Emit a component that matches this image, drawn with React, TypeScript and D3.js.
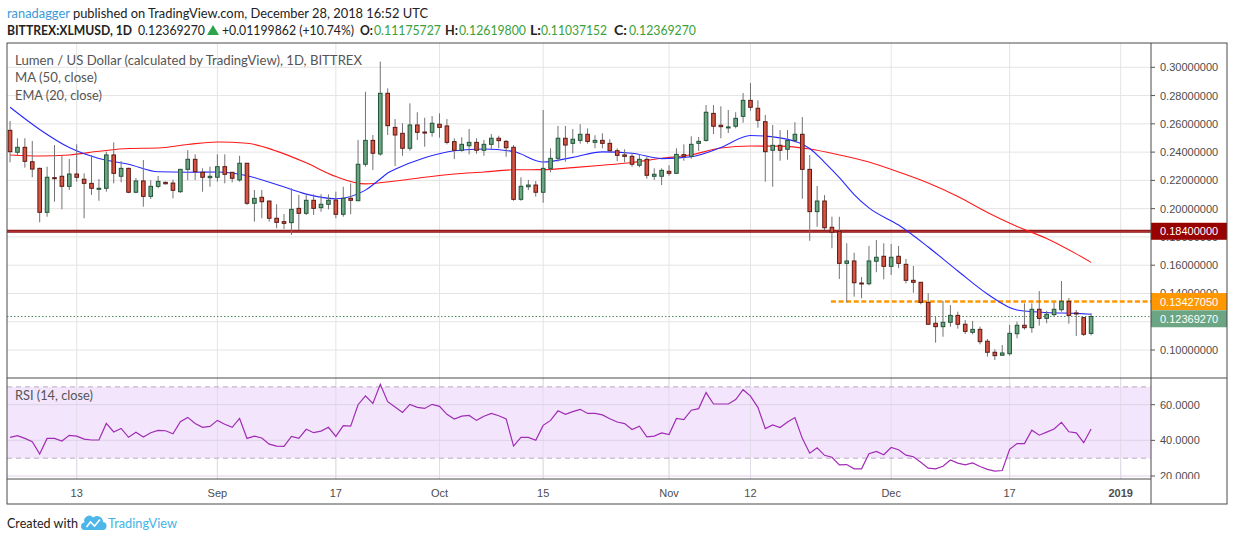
import React from "react";
import * as d3 from "d3";

// daily candles from 2018-08-04, [open, high, low, close]
const firstDay = Date.UTC(2018, 7, 4);
const candles: [number, number, number, number][] = [
  [0.2554, 0.2620, 0.2328, 0.2403], [0.2399, 0.2498, 0.2379, 0.2434], [0.2434, 0.2498, 0.2290, 0.2335],
  [0.2332, 0.2479, 0.2222, 0.2280], [0.2285, 0.2290, 0.1903, 0.1974], [0.1974, 0.2297, 0.1943, 0.2222],
  [0.2219, 0.2450, 0.2049, 0.2215], [0.2229, 0.2373, 0.1995, 0.2158], [0.2158, 0.2351, 0.2132, 0.2245],
  [0.2245, 0.2455, 0.2191, 0.2222], [0.2208, 0.2250, 0.1932, 0.2179], [0.2179, 0.2380, 0.2097, 0.2144],
  [0.2137, 0.2210, 0.2056, 0.2144], [0.2144, 0.2403, 0.2120, 0.2380], [0.2380, 0.2469, 0.2179, 0.2250],
  [0.2229, 0.2337, 0.2186, 0.2285], [0.2285, 0.2290, 0.2109, 0.2116], [0.2116, 0.2217, 0.2109, 0.2196],
  [0.2196, 0.2344, 0.2014, 0.2087], [0.2087, 0.2201, 0.2068, 0.2158], [0.2158, 0.2231, 0.2144, 0.2193],
  [0.2186, 0.2192, 0.2171, 0.2176], [0.2181, 0.2205, 0.2073, 0.2130], [0.2120, 0.2280, 0.2111, 0.2278],
  [0.2278, 0.2413, 0.2201, 0.2349], [0.2349, 0.2384, 0.2203, 0.2261], [0.2257, 0.2285, 0.2120, 0.2222],
  [0.2219, 0.2297, 0.2155, 0.2229], [0.2222, 0.2384, 0.2191, 0.2297], [0.2297, 0.2384, 0.2179, 0.2243],
  [0.2257, 0.2259, 0.2186, 0.2215], [0.2203, 0.2374, 0.2191, 0.2321], [0.2321, 0.2323, 0.2026, 0.2038],
  [0.2038, 0.2132, 0.1908, 0.2073], [0.2080, 0.2132, 0.1932, 0.2049], [0.2054, 0.2056, 0.1908, 0.1932],
  [0.1932, 0.2031, 0.1861, 0.1903], [0.1908, 0.1962, 0.1856, 0.1896], [0.1901, 0.2144, 0.1814, 0.1995],
  [0.2002, 0.2097, 0.1849, 0.1967], [0.1967, 0.2101, 0.1955, 0.2059], [0.2059, 0.2101, 0.1955, 0.2002],
  [0.2007, 0.2101, 0.1978, 0.2031], [0.2031, 0.2101, 0.1995, 0.2059], [0.2061, 0.2120, 0.1932, 0.1960],
  [0.1960, 0.2155, 0.1943, 0.2073], [0.2073, 0.2179, 0.1960, 0.2059], [0.2056, 0.2486, 0.2056, 0.2314],
  [0.2314, 0.2827, 0.2297, 0.2483], [0.2483, 0.2521, 0.2273, 0.2392], [0.2387, 0.3040, 0.2374, 0.2816],
  [0.2816, 0.2851, 0.2521, 0.2587], [0.2575, 0.2634, 0.2302, 0.2521], [0.2533, 0.2604, 0.2374, 0.2427],
  [0.2427, 0.2745, 0.2410, 0.2592], [0.2592, 0.2682, 0.2486, 0.2540], [0.2542, 0.2643, 0.2438, 0.2537],
  [0.2540, 0.2655, 0.2509, 0.2604], [0.2597, 0.2674, 0.2502, 0.2575], [0.2585, 0.2634, 0.2455, 0.2469],
  [0.2474, 0.2498, 0.2351, 0.2413], [0.2413, 0.2505, 0.2403, 0.2455], [0.2445, 0.2564, 0.2384, 0.2469],
  [0.2469, 0.2498, 0.2389, 0.2413], [0.2413, 0.2486, 0.2374, 0.2455], [0.2455, 0.2528, 0.2422, 0.2498],
  [0.2498, 0.2516, 0.2427, 0.2481], [0.2476, 0.2486, 0.2367, 0.2431], [0.2434, 0.2450, 0.2056, 0.2066],
  [0.2066, 0.2222, 0.2056, 0.2158], [0.2155, 0.2203, 0.2132, 0.2167], [0.2167, 0.2196, 0.2085, 0.2116],
  [0.2116, 0.2698, 0.2042, 0.2285], [0.2285, 0.2427, 0.2257, 0.2356], [0.2356, 0.2585, 0.2332, 0.2498],
  [0.2498, 0.2585, 0.2332, 0.2450], [0.2462, 0.2564, 0.2392, 0.2491], [0.2483, 0.2597, 0.2460, 0.2526],
  [0.2526, 0.2568, 0.2460, 0.2476], [0.2469, 0.2519, 0.2427, 0.2483], [0.2483, 0.2533, 0.2427, 0.2462],
  [0.2462, 0.2491, 0.2396, 0.2410], [0.2410, 0.2427, 0.2337, 0.2377], [0.2380, 0.2420, 0.2328, 0.2370],
  [0.2370, 0.2392, 0.2297, 0.2314], [0.2307, 0.2384, 0.2293, 0.2349], [0.2349, 0.2368, 0.2212, 0.2236],
  [0.2229, 0.2285, 0.2203, 0.2243], [0.2229, 0.2285, 0.2167, 0.2271], [0.2264, 0.2307, 0.2233, 0.2250],
  [0.2250, 0.2427, 0.2250, 0.2384], [0.2382, 0.2455, 0.2339, 0.2370], [0.2370, 0.2512, 0.2353, 0.2455],
  [0.2462, 0.2507, 0.2408, 0.2476], [0.2483, 0.2733, 0.2474, 0.2682], [0.2674, 0.2733, 0.2528, 0.2583],
  [0.2590, 0.2724, 0.2498, 0.2580], [0.2573, 0.2698, 0.2535, 0.2578], [0.2583, 0.2682, 0.2568, 0.2639],
  [0.2653, 0.2818, 0.2608, 0.2766], [0.2766, 0.2889, 0.2693, 0.2717], [0.2710, 0.2766, 0.2573, 0.2625],
  [0.2615, 0.2663, 0.2191, 0.2403], [0.2413, 0.2592, 0.2155, 0.2448], [0.2448, 0.2556, 0.2339, 0.2413],
  [0.2420, 0.2556, 0.2346, 0.2483], [0.2483, 0.2611, 0.2469, 0.2526], [0.2526, 0.2648, 0.2070, 0.2278],
  [0.2278, 0.2380, 0.1773, 0.1979], [0.1979, 0.2160, 0.1872, 0.2054], [0.2054, 0.2096, 0.1849, 0.1865],
  [0.1868, 0.1943, 0.1720, 0.1833], [0.1837, 0.1943, 0.1502, 0.1613], [0.1613, 0.1755, 0.1337, 0.1630],
  [0.1630, 0.1688, 0.1377, 0.1476], [0.1474, 0.1516, 0.1366, 0.1469], [0.1469, 0.1736, 0.1458, 0.1630],
  [0.1628, 0.1778, 0.1550, 0.1656], [0.1663, 0.1755, 0.1500, 0.1592], [0.1592, 0.1750, 0.1531, 0.1656],
  [0.1663, 0.1736, 0.1578, 0.1613], [0.1606, 0.1644, 0.1472, 0.1493], [0.1493, 0.1594, 0.1405, 0.1479],
  [0.1479, 0.1481, 0.1323, 0.1337], [0.1337, 0.1401, 0.1182, 0.1182], [0.1189, 0.1240, 0.1052, 0.1165],
  [0.1165, 0.1347, 0.1094, 0.1196], [0.1196, 0.1318, 0.1165, 0.1245], [0.1245, 0.1271, 0.1151, 0.1182],
  [0.1182, 0.1212, 0.1113, 0.1132], [0.1125, 0.1205, 0.1111, 0.1146], [0.1146, 0.1165, 0.1040, 0.1059],
  [0.1062, 0.1078, 0.0953, 0.0984], [0.0984, 0.1005, 0.0929, 0.0960], [0.0963, 0.1035, 0.0960, 0.0979],
  [0.0974, 0.1177, 0.0960, 0.1118], [0.1115, 0.1200, 0.1083, 0.1175], [0.1175, 0.1330, 0.1144, 0.1158],
  [0.1158, 0.1330, 0.1122, 0.1288], [0.1288, 0.1417, 0.1172, 0.1224], [0.1224, 0.1276, 0.1189, 0.1253],
  [0.1250, 0.1337, 0.1238, 0.1288], [0.1285, 0.1488, 0.1271, 0.1344], [0.1344, 0.1368, 0.1186, 0.1245],
  [0.1262, 0.1283, 0.1099, 0.1258], [0.1229, 0.1234, 0.1099, 0.1111],
  [0.11175727, 0.126198, 0.11037152, 0.1236927],
];

const rsiValues = [
  41.7, 42.6, 41.1, 39.2, 32.3, 41.1, 41.1, 39.6, 42.8, 42.4,
  40.7, 40.2, 40.2, 49.5, 44.7, 46.7, 41.7, 44.5, 41.9, 44.3,
  45.6, 45.4, 43.7, 50.5, 52.9, 49.5, 47.3, 47.8, 51.2, 49.0,
  47.3, 52.3, 41.1, 42.4, 41.3, 37.9, 36.8, 36.6, 42.2, 41.1,
  46.2, 44.3, 45.2, 47.3, 42.2, 48.2, 48.0, 60.0, 65.0, 60.7,
  71.4, 61.7, 58.7, 55.7, 60.2, 58.5, 57.9, 60.2, 59.1, 54.6,
  52.0, 53.6, 54.0, 51.2, 53.5, 55.1, 53.8, 52.0, 36.8, 41.7,
  41.7, 40.0, 48.4, 51.2, 56.6, 54.6, 56.1, 57.4, 55.1, 55.1,
  54.3, 52.1, 50.3, 49.4, 46.1, 47.9, 42.0, 42.4, 44.2, 43.3,
  52.3, 51.6, 56.9, 57.8, 66.8, 60.4, 60.4, 60.4, 62.9, 68.4,
  64.8, 58.5, 46.6, 48.6, 47.2, 50.3, 52.8, 41.1, 32.8, 35.8,
  31.6, 30.5, 26.2, 26.4, 24.0, 24.0, 32.5, 33.8, 31.9, 36.0,
  34.7, 31.7, 30.8, 27.7, 24.4, 24.0, 25.5, 29.0, 27.2, 26.2,
  27.3, 25.3, 23.7, 22.7, 23.1, 35.0, 38.2, 38.2, 45.7, 42.9,
  44.6, 46.4, 50.1, 44.8, 44.2, 38.7, 46.4,
];

// [day index, value]
const emaPoints: [number, number][] = [
  [0, 0.2717], [4, 0.2560], [8, 0.2432], [12, 0.2355], [16, 0.2314], [20, 0.2261], [24, 0.2258],
  [28, 0.2259], [32, 0.2233], [36, 0.2171], [40, 0.2103], [44, 0.2070], [48, 0.2131], [50, 0.2210],
  [51, 0.2252], [52, 0.2278], [56, 0.2360], [60, 0.2410], [64, 0.2422], [68, 0.2404], [72, 0.2330],
  [76, 0.2363], [80, 0.2402], [84, 0.2392], [88, 0.2354], [92, 0.2367], [96, 0.2432], [100, 0.2517],
  [104, 0.2501], [108, 0.2426], [110, 0.2328], [112, 0.2220], [114, 0.2100], [116, 0.2005],
  [120, 0.1884], [124, 0.1729], [128, 0.1559], [132, 0.1396], [136, 0.1283], [140, 0.1265],
  [144, 0.1259], [146, 0.1253],
];
const maPoints: [number, number][] = [
  [0, 0.2380], [4, 0.2372], [8, 0.2380], [12, 0.2406], [16, 0.2426], [20, 0.2429], [24, 0.2454],
  [28, 0.2472], [32, 0.2463], [36, 0.2407], [40, 0.2324], [44, 0.2227], [48, 0.2175], [52, 0.2196],
  [56, 0.2222], [60, 0.2245], [64, 0.2259], [68, 0.2275], [72, 0.2276], [76, 0.2290], [80, 0.2307],
  [84, 0.2327], [88, 0.2356], [92, 0.2381], [96, 0.2429], [100, 0.2443], [104, 0.2442], [108, 0.2422],
  [112, 0.2380], [116, 0.2330], [120, 0.2259], [124, 0.2181], [128, 0.2086], [132, 0.1973],
  [136, 0.1874], [140, 0.1789], [144, 0.1680], [146, 0.1620],
];

const priceTicks = [0.10, 0.12, 0.14, 0.16, 0.18, 0.20, 0.22, 0.24, 0.26, 0.28, 0.30];
const rsiTicks = [20, 40, 60];
const timeTicks = ["2018-08-13", "2018-09-01", "2018-09-17", "2018-10-01", "2018-10-15",
  "2018-11-01", "2018-11-12", "2018-12-01", "2018-12-17", "2019-01-01"];
const timeLabels = ["13", "Sep", "17", "Oct", "15", "Nov", "12", "Dec", "17", "2019"];

const resistance = 0.184;
const breakdown = 0.1342705;
const breakdownFrom = "2018-11-23";
const lastClose = 0.1236927;

const axisFont = "'Liberation Sans', Arial, sans-serif";
const uiFont = "Lato, 'Open Sans', sans-serif";

export default function App() {
  const left = 7, right = 1151, top = 43, mainBottom = 378, rsiBottom = 479;
  const frameRight = 1227, frameBottom = 504;

  const day = (i: number) => new Date(firstDay + i * 86400000);
  const x = d3.scaleUtc()
    .domain([new Date("2018-08-13T00:00:00Z"), new Date("2019-01-01T00:00:00Z")])
    .range([76.7, 1120.7]);
  const y = d3.scaleLinear().domain([0.10, 0.30]).range([350, 67.3]);
  const yr = d3.scaleLinear().domain([20, 60]).range([476, 404.7]);

  const lineP = d3.line<[number, number]>()
    .x(d => x(day(d[0])))
    .y(d => y(d[1]))
    .curve(d3.curveMonotoneX);
  const rsiLine = d3.line<number>()
    .x((_, i) => x(day(i)))
    .y(d => yr(d));

  const bodyW = 3.6;
  const orangeY = y(breakdown);
  const greenY = Math.max(y(lastClose), orangeY + 17.2);

  const priceBox = (cy: number, fill: string, label: string) => (
    <g>
      <rect x={right} y={cy - 8.5} width={frameRight - right} height={17} fill={fill} />
      <text x={1160} y={cy + 4} fontSize={11} fill="#fff" fontFamily={axisFont}>{label}</text>
    </g>
  );

  return (
    <svg width={1234} height={541} style={{ position: "absolute", left: 0, top: 0, background: "#fff" }}>
      <defs>
        <clipPath id="mainClip"><rect x={left} y={top} width={right - left} height={mainBottom - top} /></clipPath>
        <clipPath id="rsiClip"><rect x={left} y={mainBottom} width={frameRight - left} height={rsiBottom - mainBottom} /></clipPath>
      </defs>
      <rect width={1234} height={541} fill="#fff" />

      {/* header */}
      <text x={7} y={18} fontSize={13.5} fontFamily={uiFont} fill="#222" textLength={421} lengthAdjust="spacingAndGlyphs">
        <tspan fill="#3c9ad8">ranadagger</tspan> published on TradingView.com, December 28, 2018 16:52 UTC
      </text>
      <g fontSize={13.5} fontFamily={uiFont} fill="#222">
        <text x={7} y={35} fontWeight="bold" textLength={125} lengthAdjust="spacingAndGlyphs">BITTREX:XLMUSD, 1D</text>
        <text x={138} y={35} textLength={67} lengthAdjust="spacingAndGlyphs">0.12369270</text>
        <path d="M207,35 L213,25 L219,35 Z" fill="#2ea44a" />
        <text x={222} y={35} textLength={132} lengthAdjust="spacingAndGlyphs">+0.01199862 (+10.74%)</text>
        <text x={360} y={35} fontWeight="bold" textLength={13} lengthAdjust="spacingAndGlyphs">O:</text>
        <text x={374} y={35} fill="#3aa13a" textLength={67} lengthAdjust="spacingAndGlyphs">0.11175727</text>
        <text x={445} y={35} fontWeight="bold" textLength={13} lengthAdjust="spacingAndGlyphs">H:</text>
        <text x={459} y={35} fill="#3aa13a" textLength={67} lengthAdjust="spacingAndGlyphs">0.12619800</text>
        <text x={530} y={35} fontWeight="bold" textLength={11} lengthAdjust="spacingAndGlyphs">L:</text>
        <text x={541} y={35} fill="#3aa13a" textLength={66} lengthAdjust="spacingAndGlyphs">0.11037152</text>
        <text x={614} y={35} fontWeight="bold" textLength={13} lengthAdjust="spacingAndGlyphs">C:</text>
        <text x={629} y={35} fill="#3aa13a" textLength={67} lengthAdjust="spacingAndGlyphs">0.12369270</text>
      </g>

      {/* grid */}
      {timeTicks.map(t => (
        <line key={t} x1={x(new Date(t + "T00:00:00Z"))} x2={x(new Date(t + "T00:00:00Z"))} y1={top} y2={rsiBottom} stroke="#e4e4e4" />
      ))}
      {priceTicks.map(p => (
        <line key={p} x1={left} x2={right} y1={y(p)} y2={y(p)} stroke="#e4e4e4" />
      ))}

      {/* main pane */}
      <g clipPath="url(#mainClip)">
        <line x1={left} x2={right} y1={y(resistance)} y2={y(resistance)} stroke="#8a1111" strokeWidth={3.2} />
        <line x1={left} x2={right} y1={y(resistance)} y2={y(resistance)} stroke="#b83a3a" strokeWidth={1} />
        <line x1={left} x2={right} y1={y(lastClose)} y2={y(lastClose)} stroke="#4f8a62" strokeDasharray="1.5,2" />
        <line x1={x(new Date(breakdownFrom + "T00:00:00Z")) - 1} x2={right} y1={orangeY} y2={orangeY}
          stroke="#ff9800" strokeWidth={2.6} strokeDasharray="5,2.6" />
        <path d={lineP(maPoints) || ""} fill="none" stroke="#ff1a1a" strokeWidth={1.1} />
        <path d={lineP(emaPoints) || ""} fill="none" stroke="#2828ff" strokeWidth={1.1} />
        {candles.map((c, i) => {
          const [o, h, l, cl] = c;
          const cx = x(day(i));
          const up = cl >= o;
          const yt = y(Math.max(o, cl));
          const yb = y(Math.min(o, cl));
          return (
            <g key={i}>
              <line x1={cx} x2={cx} y1={y(h)} y2={y(l)} stroke="#737375" />
              <rect x={cx - bodyW / 2} y={yt} width={bodyW} height={Math.max(yb - yt, 1)}
                fill={up ? "#6ba583" : "#d75442"} stroke={up ? "#225437" : "#5b1a13"} strokeWidth={1} />
            </g>
          );
        })}
      </g>

      {/* legend */}
      <g fontFamily={uiFont} fontSize={12.5} fill="#555">
        <text x={15} y={64.5} textLength={347} lengthAdjust="spacingAndGlyphs">Lumen / US Dollar (calculated by TradingView), 1D, BITTREX</text>
        <text x={15} y={82} textLength={82} lengthAdjust="spacingAndGlyphs">MA (50, close)</text>
        <text x={15} y={99.5} textLength={87} lengthAdjust="spacingAndGlyphs">EMA (20, close)</text>
      </g>

      {/* price axis */}
      {priceTicks.map(p => (
        <g key={p}>
          <line x1={right} x2={right + 4} y1={y(p)} y2={y(p)} stroke="#555" />
          <text x={1160} y={y(p) + 4} fontSize={11} fill="#4d4d4d" fontFamily={axisFont}>{p.toFixed(8)}</text>
        </g>
      ))}
      {priceBox(y(resistance), "#990000", resistance.toFixed(8))}
      {priceBox(orangeY, "#ff9800", breakdown.toFixed(8))}
      {priceBox(greenY, "#6ba583", lastClose.toFixed(8))}

      {/* RSI pane */}
      <rect x={left} y={yr(70)} width={right - left} height={yr(30) - yr(70)} fill="#f3e6fc" />
      {timeTicks.map(t => (
        <line key={"r" + t} x1={x(new Date(t + "T00:00:00Z"))} x2={x(new Date(t + "T00:00:00Z"))} y1={mainBottom} y2={rsiBottom} stroke="#e2dbe8" />
      ))}
      {rsiTicks.map(r => (
        <line key={r} x1={left} x2={right} y1={yr(r)} y2={yr(r)} stroke="#ddd3e6" />
      ))}
      <line x1={left} x2={right} y1={yr(70)} y2={yr(70)} stroke="#b9aac2" strokeDasharray="5,4" />
      <line x1={left} x2={right} y1={yr(30)} y2={yr(30)} stroke="#b9aac2" strokeDasharray="5,4" />
      <g clipPath="url(#rsiClip)">
        <path d={rsiLine(rsiValues) || ""} fill="none" stroke="#a02cb4" strokeWidth={1.2} />
        {rsiTicks.map(r => (
          <g key={"t" + r}>
            <line x1={right} x2={right + 4} y1={yr(r)} y2={yr(r)} stroke="#555" />
            <text x={1160} y={yr(r) + 4} fontSize={11} fill="#4d4d4d" fontFamily={axisFont}>{r.toFixed(4)}</text>
          </g>
        ))}
      </g>
      <text x={15} y={400} fontFamily={uiFont} fontSize={12.5} fill="#555" textLength={78} lengthAdjust="spacingAndGlyphs">RSI (14, close)</text>

      {/* frame & separators */}
      <line x1={left} x2={frameRight} y1={mainBottom} y2={mainBottom} stroke="#4a4a4a" />
      <line x1={left} x2={right} y1={rsiBottom} y2={rsiBottom} stroke="#4a4a4a" />
      <line x1={right} x2={right} y1={top} y2={frameBottom} stroke="#4a4a4a" />
      <rect x={left} y={top} width={frameRight - left} height={frameBottom - top} fill="none" stroke="#4a4a4a" />

      {/* time axis */}
      {timeTicks.map((t, i) => (
        <text key={"l" + t} x={x(new Date(t + "T00:00:00Z"))} y={497} textAnchor="middle" fontSize={11}
          fill="#4d4d4d" fontFamily={axisFont} fontWeight={timeLabels[i] === "2019" ? "bold" : "normal"}>
          {timeLabels[i]}
        </text>
      ))}

      {/* footer */}
      <text x={7} y={528} fontFamily={uiFont} fontSize={13.5} fill="#222" textLength={71} lengthAdjust="spacingAndGlyphs">Created with</text>
      <path d="M84,530 H102 A4,4 0 0 0 103,522 A6,6 0 0 0 93,517.5 A5,5 0 0 0 84.5,522.5 A3.8,3.8 0 0 0 84,530 Z" fill="#4db6e8" />
      <path d="M86.5,527 L90.5,522 L94.5,526 L100,519.5" fill="none" stroke="#fff" strokeWidth={1.6} />
      <text x={108} y={528} fontFamily={uiFont} fontSize={13.5} fill="#45b3e6" textLength={69} lengthAdjust="spacingAndGlyphs">TradingView</text>
    </svg>
  );
}
